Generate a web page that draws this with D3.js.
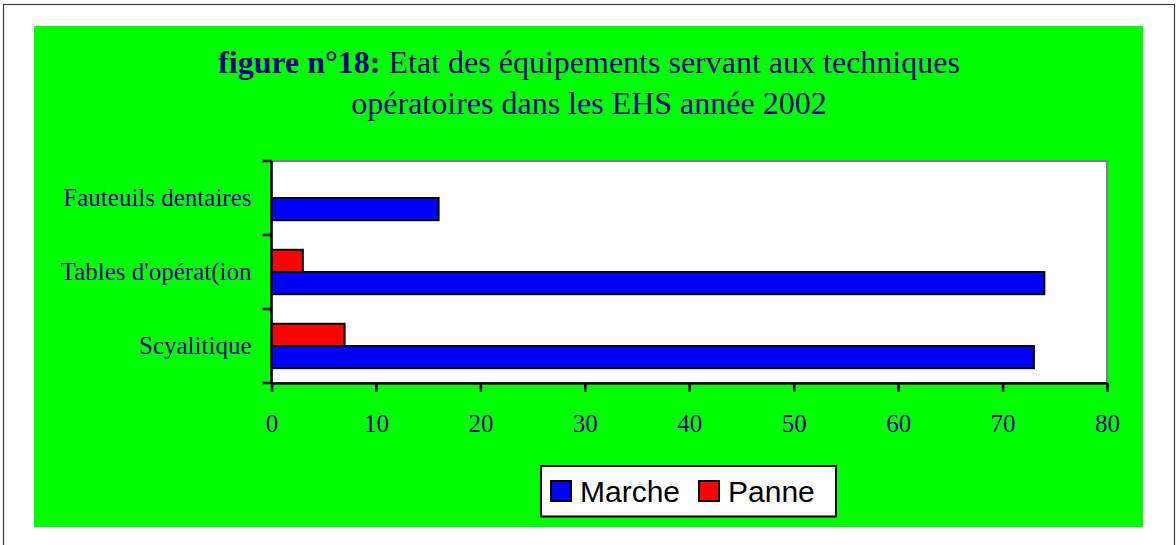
<!DOCTYPE html>
<html>
<head>
<meta charset="utf-8">
<script src="https://cdn.jsdelivr.net/npm/d3@7"></script>
<style>
  body { margin: 0; background: #fff; }
  svg { display: block; }
</style>
</head>
<body>
<div class="chart"></div>
<script>
const width = 1176;
const height = 545;

// DATA //
const categories = ["Fauteuils dentaires", "Tables d'opérat(ion", "Scyalitique"];
const seriesNames = ["Panne", "Marche"];   // top to bottom inside each group
const marche = [16, 74, 73];
const panne = [0, 3, 7];
const xTicks = [0, 10, 20, 30, 40, 50, 60, 70, 80];
const legendNames = ["Marche", "Panne"];

const colors = { Marche: "#0000ff", Panne: "#ff0000" };
const textColor = "#000080";
const serif = "'Liberation Serif', 'Times New Roman', serif";
const sans = "'Liberation Sans', Arial, sans-serif";

const svg = d3.select(".chart")
    .append("svg")
    .attr("width", width)
    .attr("height", height)
    .attr("viewBox", [0, 0, width, height]);

// page frame
svg.append("rect")
    .attr("x", 3.5).attr("y", 4.5)
    .attr("width", 1171).attr("height", 600)
    .attr("fill", "#fff")
    .attr("stroke", "#404040")
    .attr("stroke-width", 1.2);

// green chart area
svg.append("rect")
    .attr("x", 34).attr("y", 26)
    .attr("width", 1109).attr("height", 501)
    .attr("fill", "#00ff00");

// TITLE //
const title = svg.append("text")
    .attr("text-anchor", "middle")
    .attr("font-family", serif)
    .attr("font-size", 32)
    .attr("fill", textColor);
const l1 = title.append("tspan").attr("x", 589).attr("y", 73);
l1.append("tspan").attr("font-weight", "bold").text("figure n°18:");
l1.append("tspan").text(" Etat des équipements servant aux techniques");
title.append("tspan").attr("x", 589).attr("y", 114)
    .text("opératoires dans les EHS année 2002");

// SCALES //
const plot = { left: 271.5, right: 1107, top: 161, bottom: 383 };

const x = d3.scaleLinear()
    .domain([0, 80])
    .range([plot.left, plot.right]);

const y = d3.scaleBand()
    .domain(categories)
    .range([plot.top, plot.bottom])
    .paddingInner(0.4)
    .paddingOuter(0.2);

const ySub = d3.scaleBand()
    .domain(seriesNames)
    .range([0, y.bandwidth()]);

// plot area
svg.append("rect")
    .attr("x", plot.left).attr("y", plot.top)
    .attr("width", plot.right - plot.left)
    .attr("height", plot.bottom - plot.top)
    .attr("fill", "#fff")
    .attr("stroke", "#808080")
    .attr("stroke-width", 2);

// BARS //
const rows = categories.map((c, i) => ({ cat: c, Marche: marche[i], Panne: panne[i] }));

svg.append("g")
    .selectAll("g")
    .data(rows)
    .join("g")
    .attr("transform", d => `translate(0,${y(d.cat)})`)
    .selectAll("rect")
    .data(d => seriesNames.map(s => ({ key: s, value: d[s] })).filter(e => e.value > 0))
    .join("rect")
    .attr("x", x(0))
    .attr("y", d => ySub(d.key))
    .attr("width", d => x(d.value) - x(0))
    .attr("height", ySub.bandwidth())
    .attr("fill", d => colors[d.key])
    .attr("stroke", "#000")
    .attr("stroke-width", 2);

// AXES //
const xAxis = svg.append("g")
    .attr("transform", `translate(0,${plot.bottom})`)
    .call(d3.axisBottom(x).tickValues(xTicks).tickSize(9).tickSizeOuter(0).tickPadding(22));
xAxis.select(".domain").attr("stroke", "#000").attr("stroke-width", 2.5);
xAxis.selectAll(".tick line").attr("stroke", "#000").attr("stroke-width", 2.5);
xAxis.selectAll(".tick text")
    .attr("font-family", serif)
    .attr("font-size", 25)
    .attr("fill", textColor);

// y axis: line plus ticks at category boundaries
const bounds = categories.map(c => y(c) - y.step() * y.paddingOuter()).concat([plot.bottom]);
const yAxis = svg.append("g");
yAxis.append("line")
    .attr("x1", plot.left).attr("x2", plot.left)
    .attr("y1", plot.top).attr("y2", plot.bottom)
    .attr("stroke", "#000").attr("stroke-width", 2.5);
yAxis.selectAll(".tk")
    .data(bounds)
    .join("line")
    .attr("class", "tk")
    .attr("x1", plot.left - 9).attr("x2", plot.left)
    .attr("y1", d => d).attr("y2", d => d)
    .attr("stroke", "#000").attr("stroke-width", 2.5);
yAxis.selectAll(".lbl")
    .data(categories)
    .join("text")
    .attr("class", "lbl")
    .attr("x", plot.left - 20)
    .attr("y", d => y(d) - y.step() * y.paddingOuter() + y.step() / 2)
    .attr("dy", "0.32em")
    .attr("text-anchor", "end")
    .attr("font-family", serif)
    .attr("font-size", 25)
    .attr("fill", textColor)
    .text(d => d);

// LEGEND //
const legend = svg.append("g").attr("transform", "translate(541,466)");
legend.append("rect")
    .attr("width", 295).attr("height", 50.5)
    .attr("fill", "#fff")
    .attr("stroke", "#000")
    .attr("stroke-width", 2);
const legX = [10, 158];
const item = legend.selectAll(".item")
    .data(legendNames)
    .join("g")
    .attr("class", "item")
    .attr("transform", (d, i) => `translate(${legX[i]},15)`);
item.append("rect")
    .attr("width", 20).attr("height", 20)
    .attr("fill", d => colors[d])
    .attr("stroke", "#000")
    .attr("stroke-width", 2);
item.append("text")
    .attr("x", 29).attr("y", 20.5)
    .attr("font-family", sans)
    .attr("font-size", 30)
    .attr("fill", "#000")
    .text(d => d);
</script>
</body>
</html>
